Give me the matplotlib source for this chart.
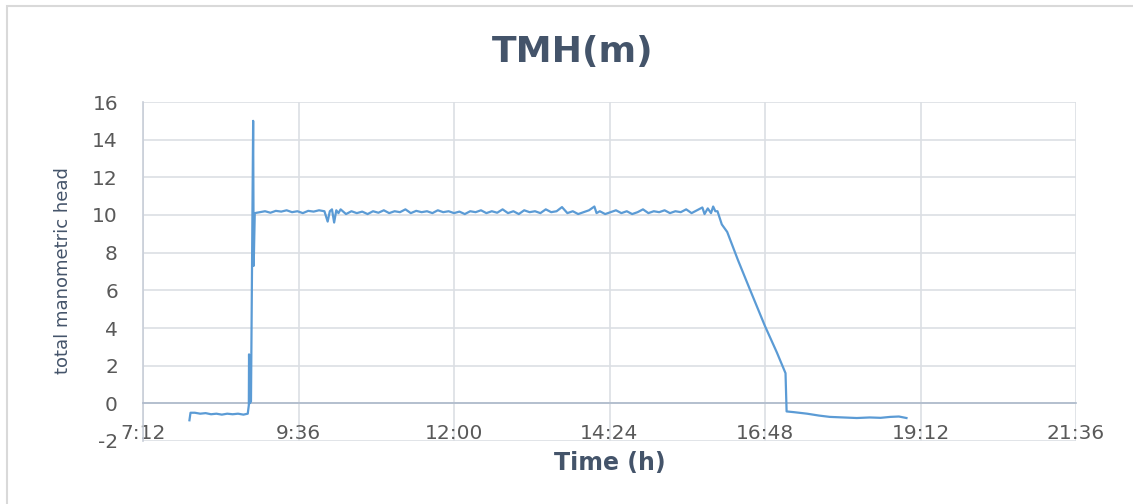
import matplotlib.pyplot as plt
from matplotlib.patches import Rectangle

# time in minutes after midnight, head in m
minutes = [475, 476, 480, 485, 490, 495, 500, 505, 510, 515, 520, 525, 529,
           530, 530.2, 530.8, 532, 534, 534.5, 535.5,
           540, 545, 550, 555, 560, 565, 570, 575, 580, 585, 590, 595, 600,
           603, 605, 607, 609, 611, 613, 615, 620, 625, 630, 635, 640, 645,
           650, 655, 660, 665, 670, 675, 680, 685, 690, 695, 700, 705, 710,
           715, 720, 725, 730, 735, 740, 745, 750, 755, 760, 765, 770, 775,
           780, 785, 790, 795, 800, 805, 810, 815, 820, 825, 830, 835, 840,
           845, 850, 852, 855, 860, 865, 870, 875, 880, 885, 890, 895, 900,
           905, 910, 915, 920, 925, 930, 935, 940, 945, 950, 952, 955, 958,
           960, 962,
           964, 968, 973, 983, 994, 1003, 1008, 1019, 1027,
           1028, 1035, 1047, 1058, 1068, 1080, 1093, 1105, 1115, 1124, 1132, 1139]
head = [-0.9, -0.5, -0.5, -0.55, -0.52, -0.58, -0.55, -0.6, -0.55, -0.58, -0.55, -0.6, -0.55,
        -0.1, 2.6, 0.0, 0.1, 15.0, 7.3, 10.1,
        10.15, 10.2, 10.12, 10.22, 10.18, 10.25, 10.15, 10.2, 10.1, 10.22, 10.18, 10.25, 10.2,
        9.65, 10.2, 10.3, 9.6, 10.25, 10.1, 10.3, 10.05, 10.2, 10.1, 10.18, 10.05, 10.2,
        10.12, 10.25, 10.1, 10.2, 10.15, 10.3, 10.1, 10.22, 10.15, 10.2, 10.1, 10.25, 10.15,
        10.2, 10.1, 10.18, 10.05, 10.2, 10.15, 10.25, 10.1, 10.2, 10.12, 10.3, 10.1, 10.2,
        10.05, 10.25, 10.15, 10.2, 10.1, 10.3, 10.15, 10.2, 10.42, 10.1, 10.2, 10.05, 10.15,
        10.25, 10.45, 10.1, 10.2, 10.05, 10.15, 10.25, 10.1, 10.2, 10.05, 10.15, 10.3, 10.1,
        10.2, 10.15, 10.25, 10.1, 10.2, 10.15, 10.3, 10.1, 10.25, 10.4, 10.05, 10.35, 10.1,
        10.45, 10.2,
        10.2, 9.5, 9.1, 7.6, 6.05, 4.8, 4.1, 2.7, 1.6,
        -0.43, -0.47, -0.55, -0.65, -0.72, -0.75, -0.78, -0.75, -0.77, -0.72, -0.7, -0.78]

tick_minutes = [432, 576, 720, 864, 1008, 1152, 1296]
tick_labels = ['7:12', '9:36', '12:00', '14:24', '16:48', '19:12', '21:36']
y_ticks = [-2, 0, 2, 4, 6, 8, 10, 12, 14, 16]

plt.rcParams['font.family'] = ['DejaVu Sans']
plt.rcParams['axes.unicode_minus'] = False
text_col = '#595959'
title_col = '#44546A'
grid_col = '#DCDFE4'

fig = plt.figure(figsize=(11.33, 5.04), dpi=100)
fig.patches.append(Rectangle((7 / 1133, -0.1), 1.2, 1.1 - 6 / 504, transform=fig.transFigure,
                             fill=False, edgecolor='#D9D9D9', linewidth=1.5))
ax = fig.add_axes([143 / 1133, 1 - 441 / 504, 933 / 1133, 339 / 504])

ax.plot(minutes, head, color='#5B9BD5', linewidth=1.6, zorder=3)

ax.set_xlim(432, 1296)
ax.set_ylim(-2, 16)
ax.set_xticks(tick_minutes)
ax.set_xticklabels(tick_labels)
ax.set_yticks(y_ticks)
ax.grid(True, color=grid_col, linewidth=1.2)
ax.set_axisbelow(True)

for s in ['top', 'right']:
    ax.spines[s].set_visible(False)
ax.spines['bottom'].set_position(('data', 0))
ax.spines['bottom'].set_color('#ADB9CA')
ax.spines['bottom'].set_linewidth(1.2)
ax.spines['left'].set_color('#C8CED8')
ax.spines['left'].set_linewidth(1.2)
ax.tick_params(length=0, labelsize=14.5, labelcolor=text_col)
ax.tick_params(axis='x', pad=15)
ax.tick_params(axis='y', pad=18)

fig.text(573 / 1133, 1 - 62 / 504, 'TMH(m)', ha='center', va='baseline',
         fontsize=26, fontweight='bold', color=title_col)
fig.text(610 / 1133, 1 - 470 / 504, 'Time (h)', ha='center', va='baseline',
         fontsize=17, fontweight='bold', color=title_col)
fig.text(63 / 1133, 1 - 271 / 504, 'total manometric head', ha='center', va='center',
         rotation=90, fontsize=13, color=title_col)

fig.savefig('out.png', dpi=100)
